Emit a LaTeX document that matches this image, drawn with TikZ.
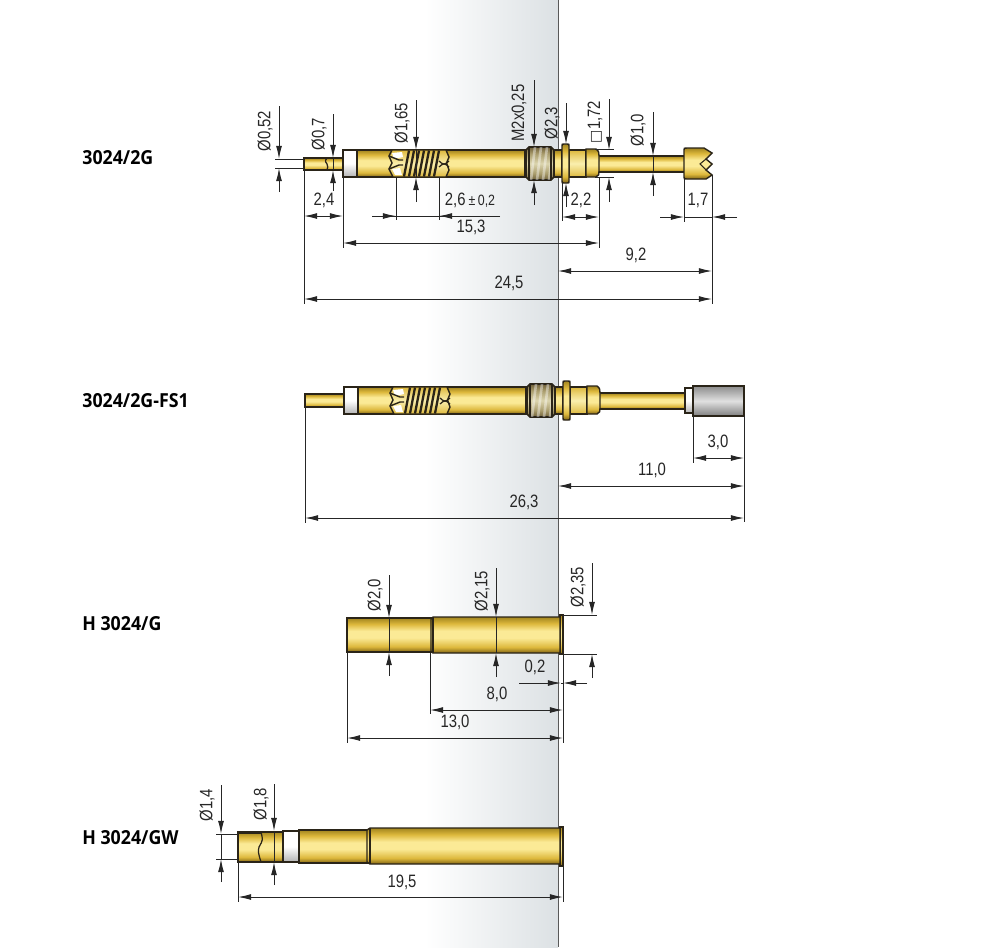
\documentclass[tikz,border=0pt]{standalone}
\usepackage{fontspec}
\usepackage{amsmath}
\usetikzlibrary{arrows.meta}
\setmainfont{Liberation Sans}
\newfontfamily\dimfont[FakeStretch=.83]{Liberation Sans}
\newfontfamily\titlefont[FakeStretch=.92]{Open Sans}
\newfontfamily\symbfont{DejaVu Sans}
\newcommand{\dia}{Ø}
\newcommand{\sqr}{{\symbfont\fontsize{8}{10}\selectfont □}}

\definecolor{bandgrey}{HTML}{DCE1E4}
\definecolor{edgeink}{HTML}{2A2418}
\definecolor{dimink}{HTML}{262626}
\definecolor{gbot}{HTML}{806414}
\definecolor{gmid}{HTML}{DDB83C}
\definecolor{gpeak}{HTML}{FBEA96}
\definecolor{gtop}{HTML}{A2851F}
\definecolor{pmid}{HTML}{EBD272}
\definecolor{ppeak}{HTML}{FAEFAE}
\definecolor{tdark}{HTML}{6E5F38}
\definecolor{tmid}{HTML}{A99C6C}
\definecolor{tlite}{HTML}{DCD5AE}
\pgfdeclareverticalshading{goldbar}{100bp}{color(0bp)=(gbot);color(25bp)=(gbot);color(33bp)=(gmid);color(46bp)=(gpeak);color(56bp)=(gpeak);color(66bp)=(gmid);color(75bp)=(gtop);color(100bp)=(gtop)}
\pgfdeclareverticalshading{palebar}{100bp}{color(0bp)=(gmid);color(25bp)=(gmid);color(36bp)=(pmid);color(50bp)=(ppeak);color(64bp)=(pmid);color(75bp)=(gmid);color(100bp)=(gmid)}
\pgfdeclareverticalshading{threadbar}{100bp}{color(0bp)=(tdark);color(25bp)=(tdark);color(35bp)=(tmid);color(50bp)=(tlite);color(65bp)=(tmid);color(75bp)=(tdark);color(100bp)=(tdark)}

\tikzset{
  gold/.style={shading=goldbar,draw=edgeink,line width=.8pt},
  palegold/.style={shading=palebar,draw=edgeink,line width=.8pt},
  whitepart/.style={top color=white,bottom color=black!30,middle color=white,draw=edgeink,line width=.8pt},
  greypart/.style={top color=black!45,bottom color=black!50,middle color=black!12,draw=edgeink,line width=.8pt},
  threadpart/.style={shading=threadbar,draw=edgeink,line width=.9pt},
  dimline/.style={draw=dimink,line width=.55pt},
  dimtip/.style={dimline,-{Latex[length=7.5pt,width=3.4pt]}},
  dimboth/.style={dimline,{Latex[length=7.5pt,width=3.4pt]}-{Latex[length=7.5pt,width=3.4pt]}},
  dimlabel/.style={font=\dimfont\fontsize{10.2}{11}\selectfont,text=dimink,inner sep=0pt},
  dimlabelv/.style={dimlabel,rotate=90},
  pintitle/.style={font=\titlefont\bfseries\fontsize{11}{12}\selectfont,anchor=west,inner sep=0pt},
  % spring window in the barrel
  pics/coilwindow/.style={code={
    \path[palegold] (3,0) -- (57,0) -- (60,7) -- (57.5,13) -- (60,20) -- (57,27) -- (4,27) -- (0,19) -- (3,13) -- (0,6) -- cycle;%%
    \foreach \cx in {17,22,27,32,37,42,47}
      \draw[edgeink,line width=1.3pt] (\cx+3,0.5) -- (\cx-2,26.5);%%
    \fill[white] (3,3) -- (13,2) -- (14,7) -- (5,9) -- cycle;%%
    \fill[white] (3,19) -- (11,18) -- (13,25) -- (6,25) -- cycle;%%
    \draw[edgeink,line width=.8pt] (0,6) -- (10,10) -- (14,10) (0,19) -- (10,15) -- (14,15);%%
    \draw[edgeink,line width=.7pt] (50,11) .. controls (54,15) and (56,15) .. (60,11);%%
    \draw[edgeink,line width=.7pt] (50,17) .. controls (54,13) and (56,13) .. (60,17);%%
  }},
  % white collar, barrel, thread, flange and shank
  pics/barrel/.style={code={
    \path[whitepart] (0,0) rectangle (14,27);%%
    \path[gold] (14,0) rectangle (182,27);%%
    \pic at (46,0) {coilwindow};%%
    \path[gold] (211,0) rectangle (219,27);%%
    \path[threadpart] (183,0) -- (186,-3) -- (208,-3) -- (211,0) -- (211,27) -- (208,30) -- (186,30) -- (183,27) -- cycle;%%
    \begin{scope}
      \clip (186,-2.5) rectangle (208,29.5);%%
      \foreach \sx in {190,196,202,208}
        \draw[white,opacity=.4,line width=1.5pt] (\sx+2,-3) -- (\sx-2,30);%%
    \end{scope}
    \draw[edgeink,line width=.9pt] (186,-3) -- (186,30) (208,-3) -- (208,30);%%
    \path[palegold] (226,0) rectangle (243,27);%%
    \path[gold] (243,-1) -- (253,-1) .. controls (256,1) and (256,3) .. (256,6) -- (256,21) .. controls (256,24) and (256,26) .. (253,27) -- (243,27) -- cycle;%%
    \path[gold] (219,-4) .. controls (219,-6) .. (221,-6) -- (224,-6) .. controls (226,-6) .. (226,-4) -- (226,31) .. controls (226,33) .. (224,33) -- (221,33) .. controls (219,33) .. (219,31) -- cycle;%%
    \draw[edgeink,line width=1.4pt] (226,0) -- (243,0);%%
  }}
}

\begin{document}
\begin{tikzpicture}[x=.02cm, y=-.02cm]
\useasboundingbox (0,0) rectangle (1000,947);
%\draw[step=100,gray,very thin] (0,0) grid (1000,947);
\fill[left color=white,right color=bandgrey] (425,0) rectangle (558,947);%%
\draw[black!65,line width=.8pt] (558.5,0) -- (558.5,947);%%

\newcommand{\diadim}[5]{\draw[dimtip] (#1,#2) -- (#1,#3); \draw[dimtip] (#1,#5) -- (#1,#4);}
\newcommand{\diathru}[3]{\draw[dimline] (#1,#2) -- (#1,#3);}

\draw (82,158) node[pintitle] (title2g) {3024/2G};%%
\draw (82,401) node[pintitle] (titlefs) {3024/2G-FS1};%%
\draw (82,624) node[pintitle] (titleg) {H 3024/G};%%
\draw (82,838) node[pintitle] (titlegw) {H 3024/GW};%%

% 3024/2G
\path[gold] (304,158) rectangle (344,170);%%
\draw[edgeink,line width=.7pt] (327,158) .. controls (325,161) .. (327,164) .. controls (328,167) .. (327,170);%%
\draw[edgeink,line width=1.2pt] (304,158) -- (327,158);%%
\path[gold] (597,156) rectangle (685,172);%%
\path[gold] (684,150) .. controls (684,148) .. (687,148) -- (704,148) -- (712,153) -- (706,159) -- (712,164) -- (706,170) -- (712,175) -- (706,179) -- (687,179) .. controls (684,179) .. (684,177) -- cycle;%%
\draw[edgeink,line width=.6pt] (706,159) -- (700,164) -- (706,170);%%
\pic at (343,150) {barrel};%%

\diadim{279}{106}{159}{168}{192}
\draw[dimline] (275,159) -- (304,159);%%
\draw[dimline] (275,168) -- (304,168);%%
\draw (265,131) node[dimlabelv] (d052) {\dia0,52};%%
\diadim{333}{114}{158}{170}{191}
\diathru{333}{158}{170}
\draw (319,134) node[dimlabelv] (d07) {\dia0,7};%%
\diadim{416}{100}{150}{177}{202}
\diathru{416}{150}{177}
\draw (402,123) node[dimlabelv] (d165) {\dia1,65};%%
\diadim{534}{80}{147}{180}{205}
\draw (519,113) node[dimlabelv] (dm2) {M2x0,25};%%
\diadim{566}{103}{144}{183}{207}
\draw (552,123) node[dimlabelv] (d23) {\dia2,3};%%
\diadim{609}{99}{150}{177}{202}
\draw[dimline] (595,149) -- (614,149);%%
\draw[dimline] (595,177) -- (614,177);%%
\draw (595,122) node[dimlabelv] (d172) {\sqr1,72};%%
\diadim{653}{112}{156}{172}{196}
\diathru{653}{156}{172}
\draw (638,130) node[dimlabelv] (d10) {\dia1,0};%%

\draw[dimline] (304,170) -- (304,304);%%
\draw[dimline] (343,177) -- (343,248);%%
\draw[dimline] (396,177) -- (396,220);%%
\draw[dimline] (439,177) -- (439,220);%%
\draw[dimline] (562,183) -- (562,221);%%
\draw[dimline] (599,177) -- (599,248);%%
\draw[dimline] (684,179) -- (684,222);%%
\draw[dimline] (712,175) -- (712,304);%%
\draw[dimboth] (304,216) -- (343,216);%%
\draw (324,200) node[dimlabel] (l24) {2,4};%%
\draw[dimline] (372,216) -- (500,216);%%
\draw[dimtip] (372,216) -- (396,216);%%
\draw[dimtip] (500,216) -- (439,216);%%
\draw (470,200) node[dimlabel] (l26) {2,6\,{\fontsize{8.5}{9}\selectfont ±\,0,2}};%%
\draw[dimboth] (343,243) -- (599,243);%%
\draw (471,227) node[dimlabel] (l153) {15,3};%%
\draw[dimboth] (562,217) -- (599,217);%%
\draw (581,200) node[dimlabel] (l22) {2,2};%%
\draw[dimtip] (660,217) -- (684,217);%%
\draw[dimline] (684,217) -- (712,217);%%
\draw[dimtip] (737,217) -- (712,217);%%
\draw (698,200) node[dimlabel] (l17) {1,7};%%
\draw[dimboth] (558,271) -- (712,271);%%
\draw (636,255) node[dimlabel] (l92) {9,2};%%
\draw[dimboth] (304,299) -- (712,299);%%
\draw (509,283) node[dimlabel] (l245) {24,5};%%

% 3024/2G-FS1
\path[gold] (305,394) rectangle (345,407);%%
\path[gold] (598,393) rectangle (686,409);%%
\path[whitepart] (685,388) rectangle (693,413);%%
\path[greypart] (693,386) rectangle (744,416);%%
\pic at (344,387) {barrel};%%

\draw[dimline] (305,407) -- (305,523);%%
\draw[dimline] (693,416) -- (693,463);%%
\draw[dimline] (744,416) -- (744,522);%%
\draw[dimboth] (693,458) -- (744,458);%%
\draw (718,442) node[dimlabel] (l30) {3,0};%%
\draw[dimboth] (558,486) -- (744,486);%%
\draw (652,470) node[dimlabel] (l110) {11,0};%%
\draw[dimboth] (305,518) -- (744,518);%%
\draw (524,502) node[dimlabel] (l263) {26,3};%%

% H 3024/G
\path[gold] (347,618) rectangle (432,652);%%
\path[gold] (560,615) rectangle (563,654);%%
\path[gold] (433,617) -- (560,617) -- (560,653) -- (433,653) -- (431,651) -- (431,619) -- cycle;%%
\draw[edgeink,line width=.8pt] (433,617) -- (433,653);%%

\diadim{389}{575}{618}{652}{676}
\diathru{389}{618}{652}
\draw (375,595) node[dimlabelv] (d20) {\dia2,0};%%
\diadim{496}{568}{617}{653}{677}
\diathru{496}{617}{653}
\draw (482,591) node[dimlabelv] (d215) {\dia2,15};%%
\diadim{592}{563}{615}{654}{678}
\draw[dimline] (563,615) -- (597,615);%%
\draw[dimline] (563,654) -- (597,654);%%
\draw (578,587) node[dimlabelv] (d235) {\dia2,35};%%

\draw[dimline] (347,652) -- (347,743);%%
\draw[dimline] (430,653) -- (430,714);%%
\draw[dimline] (563,654) -- (563,743);%%
\draw[dimline] (561,683) -- (563,683);%%
\draw[dimtip] (519,683) -- (561,683);%%
\draw[dimtip] (587,683) -- (563,683);%%
\draw (535,667) node[dimlabel] (l02) {0,2};%%
\draw[dimboth] (430,710) -- (563,710);%%
\draw (497,694) node[dimlabel] (l80) {8,0};%%
\draw[dimboth] (347,738) -- (563,738);%%
\draw (455,722) node[dimlabel] (l130) {13,0};%%

% H 3024/GW
\path[gold] (238,832) rectangle (283,862);%%
\draw[edgeink,line width=.7pt] (261,832) .. controls (263,840) .. (259,847) .. controls (258,852) .. (261,862);%%
\draw[edgeink,line width=1.2pt] (238,833) -- (261,833);%%
\path[whitepart] (283,831) rectangle (299,862);%%
\path[gold] (299,830) rectangle (368,863);%%
\path[gold] (560,827) rectangle (563,866);%%
\path[gold] (370,828) -- (560,828) -- (560,864) -- (370,864) -- (367,862) -- (367,830) -- cycle;%%
\draw[edgeink,line width=.8pt] (370,828) -- (370,864);%%

\diadim{221}{785}{834}{859}{882}
\diathru{221}{834}{859}
\draw[dimline] (216,834) -- (238,834);%%
\draw[dimline] (216,859) -- (238,859);%%
\draw (207,805) node[dimlabelv] (d14) {\dia1,4};%%
\diadim{274}{784}{831}{862}{885}
\diathru{274}{831}{862}
\draw (261,804) node[dimlabelv] (d18) {\dia1,8};%%

\draw[dimline] (238,862) -- (238,902);%%
\draw[dimline] (563,866) -- (563,902);%%
\draw[dimboth] (238,897) -- (563,897);%%
\draw (402,882) node[dimlabel] (l195) {19,5};%%
\end{tikzpicture}
\end{document}
